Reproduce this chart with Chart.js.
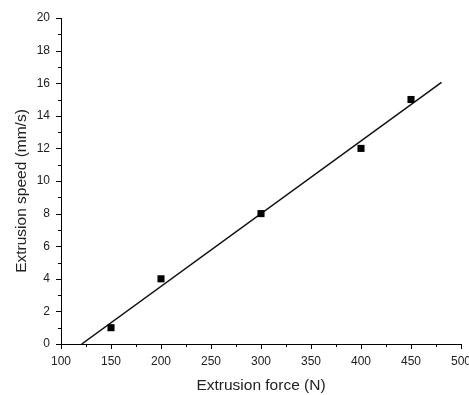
<!DOCTYPE html>
<html>
<head>
<meta charset="utf-8">
<script src="https://cdn.jsdelivr.net/npm/chart.js@4/dist/chart.umd.min.js"></script>
<style>
  html, body { margin: 0; padding: 0; background: #fff; }
  #wrap { width: 469px; height: 395px; position: relative; }
</style>
</head>
<body>
<div id="wrap"><canvas id="c"></canvas></div>
<script>
// Data
const forceN = [150, 200, 300, 400, 450];
const speedMmS = [1, 4, 8, 12, 15];
const fitForce = [120.7, 480.5];
const fitSpeed = [0, 16.05];
const xTitle = 'Extrusion force (N)';
const yTitle = 'Extrusion speed (mm/s)';
const xMin = 100, xMax = 500, xStep = 50;
const yMin = 0, yMax = 20, yStep = 2;

const FONT = '"Liberation Sans", Arial, sans-serif';
const TEXT = '#222';

const axisDecor = {
  id: 'axisDecor',
  afterDraw(chart) {
    const ctx = chart.ctx;
    const xs = chart.scales.x, ys = chart.scales.y;
    const area = chart.chartArea;
    ctx.save();
    ctx.strokeStyle = '#000';
    ctx.lineWidth = 1;
    ctx.beginPath();
    // y ticks: major every yStep, minor at half steps (outward, left)
    for (let v = yMin; v <= yMax + 1e-9; v += yStep / 2) {
      const major = Math.abs((v - yMin) / yStep - Math.round((v - yMin) / yStep)) < 1e-6;
      const len = major ? 5 : 3;
      const py = Math.round(ys.getPixelForValue(v)) + 0.5;
      ctx.moveTo(area.left - len, py);
      ctx.lineTo(area.left, py);
    }
    // x ticks: major every xStep, minor at half steps (outward, down)
    for (let v = xMin; v <= xMax + 1e-9; v += xStep / 2) {
      const major = Math.abs((v - xMin) / xStep - Math.round((v - xMin) / xStep)) < 1e-6;
      const len = major ? 5 : 3;
      const px = Math.round(xs.getPixelForValue(v)) + 0.5;
      ctx.moveTo(px, area.bottom);
      ctx.lineTo(px, area.bottom + len);
    }
    ctx.stroke();
    // y axis title
    ctx.fillStyle = TEXT;
    ctx.font = '15.5px ' + FONT;
    ctx.textAlign = 'center';
    ctx.textBaseline = 'alphabetic';
    ctx.translate(26, (area.top + area.bottom) / 2 + 10);
    ctx.rotate(-Math.PI / 2);
    ctx.fillText(yTitle, 0, 0);
    ctx.restore();
  }
};

new Chart(document.getElementById('c'), {
  type: 'scatter',
  data: {
    datasets: [
      {
        label: 'Measured',
        data: forceN.map((x, i) => ({ x: x, y: speedMmS[i] })),
        pointStyle: 'rect',
        radius: 5,
        backgroundColor: '#000',
        borderColor: '#000',
        borderWidth: 0,
        showLine: false
      },
      {
        label: 'Linear fit',
        data: fitForce.map((x, i) => ({ x: x, y: fitSpeed[i] })),
        showLine: true,
        borderColor: '#111',
        borderWidth: 1.5,
        pointRadius: 0,
        fill: false
      }
    ]
  },
  plugins: [axisDecor],
  options: {
    responsive: true,
    maintainAspectRatio: false,
    animation: false,
    layout: { padding: { top: 18, right: 8, left: 0, bottom: 0 } },
    plugins: {
      legend: { display: false },
      tooltip: { enabled: false }
    },
    scales: {
      x: {
        type: 'linear',
        min: xMin, max: xMax,
        afterFit(s) { s.height = 51; s.paddingLeft = 0; s.paddingRight = 0; },
        border: { display: true, color: '#000', width: 1 },
        grid: { display: true, drawOnChartArea: false, drawTicks: false },
        ticks: {
          stepSize: xStep,
          padding: 10,
          maxRotation: 0,
          color: TEXT,
          font: { family: FONT, size: 12 }
        },
        title: {
          display: true,
          text: xTitle,
          color: TEXT,
          padding: { top: 0, bottom: 0 },
          font: { family: FONT, size: 15.5 }
        }
      },
      y: {
        type: 'linear',
        min: yMin, max: yMax,
        afterFit(s) { s.width = 61; s.paddingTop = 0; s.paddingBottom = 0; },
        border: { display: true, color: '#000', width: 1 },
        grid: { display: true, drawOnChartArea: false, drawTicks: false },
        ticks: {
          stepSize: yStep,
          padding: 11,
          color: TEXT,
          font: { family: FONT, size: 12 }
        }
      }
    }
  }
});
</script>
</body>
</html>
